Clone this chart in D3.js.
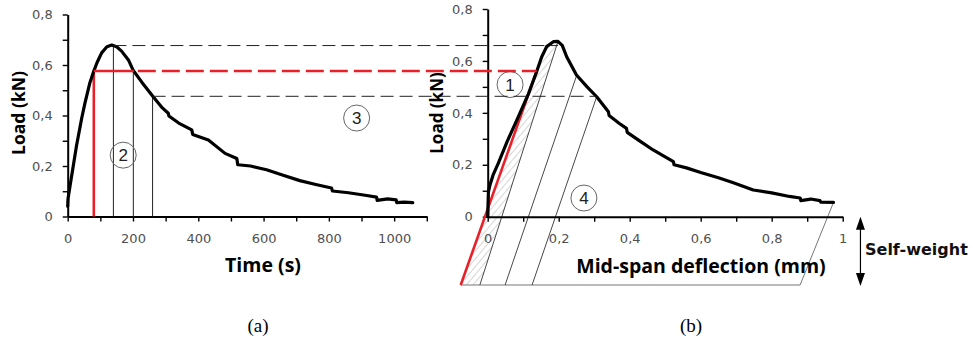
<!DOCTYPE html>
<html><head><meta charset="utf-8">
<script src="https://cdn.jsdelivr.net/npm/d3@7"></script>
<style>body{margin:0;background:#fff}svg{display:block}</style>
</head><body><svg id="c" width="979" height="338"></svg>
<script>
// ---------- Panel (a): load vs time ----------
const timeS = [0, 1, 7, 27, 43, 53, 68, 80, 90, 104, 120, 135, 150, 165, 186, 201, 227, 260, 290, 308, 310, 340, 380, 383, 431, 482, 518, 521, 560, 609, 660, 711, 760, 808, 811, 860, 916, 946, 948, 980, 1006, 1008, 1030, 1057];
const loadA = [0.04, 0.07, 0.12, 0.28, 0.39, 0.45, 0.53, 0.576, 0.61, 0.648, 0.672, 0.679, 0.672, 0.655, 0.62, 0.578, 0.532, 0.477, 0.43, 0.409, 0.398, 0.37, 0.343, 0.325, 0.303, 0.25, 0.23, 0.205, 0.2, 0.185, 0.163, 0.142, 0.127, 0.113, 0.101, 0.094, 0.083, 0.077, 0.064, 0.07, 0.066, 0.055, 0.057, 0.055];
// ---------- Panel (b): load vs mid-span deflection ----------
const deflB = [0, 0.002, 0.006, 0.015, 0.030, 0.055, 0.082, 0.1135, 0.138, 0.152, 0.166, 0.185, 0.198, 0.21, 0.2225, 0.25, 0.28, 0.307, 0.34, 0.342, 0.37, 0.391, 0.393, 0.43, 0.466, 0.5, 0.523, 0.525, 0.56, 0.6, 0.65, 0.692, 0.748, 0.8, 0.85, 0.88, 0.882, 0.91, 0.936, 0.938, 0.974];
const loadB = [0, 0.096, 0.12, 0.16, 0.206, 0.29, 0.372, 0.469, 0.559, 0.615, 0.655, 0.674, 0.675, 0.66, 0.616, 0.546, 0.5, 0.462, 0.404, 0.39, 0.36, 0.34, 0.325, 0.29, 0.257, 0.23, 0.212, 0.2, 0.188, 0.17, 0.15, 0.131, 0.103, 0.092, 0.078, 0.072, 0.062, 0.068, 0.062, 0.056, 0.055];

// axis ticks / labels
const loadTicks = [0,1,2,3,4,5,6,7,8].map(i => i/10);
const timeTicks = d3.range(0, 1101, 100);
const deflTicks = [0,1,2,3,4,5,6,7,8,9,10].map(i => i/10);

// annotation values
const levelLoads = [0.677, 0.576, 0.476];   // peak, red (elastic limit), post-peak
const levelTimes = [140, 80, 260];           // start of level lines in (a)
const levelDefls = [0.198, 0.138, 0.307];    // end of level lines in (b)
const thinTimes = [140, 201, 260];           // thin verticals in (a)
const redTime = 80;
const selfWeight = -0.263;                   // kN (shift below axis in (b))
const redLine = [[-0.076, selfWeight], [0.138, 0.561]];
const unloadBottoms = [-0.022, 0.049, 0.125];
const unloadTops = [[0.198, 0.675], [0.251, 0.546], [0.307, 0.462]];
const baseEnd = [[0.88, selfWeight], [0.974, 0.055]];
const circleA = [{t: 170, v: 0.243, n: "2"}, {t: 885, v: 0.39, n: "3"}];
const circleB = [{d: 0.063, v: 0.509, n: "1"}, {d: 0.271, v: 0.072, n: "4"}];

const svg = d3.select("#c");
svg.append("rect").attr("width", 979).attr("height", 338).attr("fill", "#fff");
const defs = svg.append("defs");
const pat = defs.append("pattern").attr("id", "hatch").attr("patternUnits", "userSpaceOnUse")
  .attr("width", 5).attr("height", 5).attr("patternTransform", "rotate(40)");
pat.append("line").attr("x1", 0).attr("y1", 0).attr("x2", 0).attr("y2", 5)
  .attr("stroke", "#999").attr("stroke-width", 0.8);

const xa = d3.scaleLinear().domain([0, 1100]).range([67.7, 426.8]);
const ya = d3.scaleLinear().domain([0, 0.8]).range([216.5, 14.5]);
const xb = d3.scaleLinear().domain([0, 1]).range([487.7, 842.7]);
const yb = d3.scaleLinear().domain([0, 0.8]).range([216.7, 9.0]);

const fmtLoad = d => (Math.round(d * 10) % 2 === 0) ? String(+d.toFixed(1)).replace(".", ",") : "";
const fmtDefl = d => (Math.round(d * 10) % 2 === 0) ? String(+d.toFixed(1)).replace(".", ",") : "";
const fmtTime = d => (d % 200 === 0) ? String(d) : "";

const RED = "#e8202a";
const tickFont = "'DejaVu Sans', sans-serif";
const titleFont = "'Open Sans', sans-serif";

function styleAxis(g) {
  g.select(".domain").attr("stroke", "#000").attr("stroke-width", 2);
  g.selectAll(".tick line").attr("stroke", "#000").attr("stroke-width", 1.4);
  g.selectAll(".tick text").attr("fill", "#505050").attr("font-size", 13).attr("font-family", tickFont);
}

// ---------- panel (a) ----------
const ga = svg.append("g");
ga.append("g").attr("transform", `translate(0,${ya(0)})`)
  .call(d3.axisBottom(xa).tickValues(timeTicks).tickFormat(fmtTime).tickSize(5).tickSizeOuter(0).tickPadding(12))
  .call(styleAxis);
ga.append("g").attr("transform", `translate(${xa(0)},0)`)
  .call(d3.axisLeft(ya).tickValues(loadTicks).tickFormat(fmtLoad).tickSize(5).tickSizeOuter(0).tickPadding(10))
  .call(styleAxis);

const interpA = t => {
  const i = d3.bisectLeft(timeS, t);
  if (i <= 0) return loadA[0];
  const t0 = timeS[i-1], t1 = timeS[i];
  return loadA[i-1] + (loadA[i] - loadA[i-1]) * (t - t0) / (t1 - t0);
};
// thin verticals
ga.selectAll(".vthin").data(thinTimes).join("line")
  .attr("x1", d => xa(d)).attr("x2", d => xa(d))
  .attr("y1", ya(0)).attr("y2", d => ya(interpA(d)))
  .attr("stroke", "#222").attr("stroke-width", 1);
// red vertical
ga.append("line").attr("x1", xa(redTime)).attr("x2", xa(redTime))
  .attr("y1", ya(0)).attr("y2", ya(levelLoads[1]))
  .attr("stroke", RED).attr("stroke-width", 2.6);

// ---------- panel (b) ----------
const gb = svg.append("g");
// hatched region (between elastic line and first unloading line)
const hatchPts = [redLine[0], [unloadBottoms[0], selfWeight], unloadTops[0]];
for (let i = deflB.length - 1; i >= 0; i--) {
  if (deflB[i] < 0.198 && deflB[i] > 0.138) hatchPts.push([deflB[i], loadB[i]]);
}
hatchPts.push(redLine[1]);
gb.append("path").attr("d", "M" + hatchPts.map(p => [xb(p[0]), yb(p[1])].join(",")).join("L") + "Z")
  .attr("fill", "url(#hatch)").attr("stroke", "none");

// base (self-weight) line + closing slant
gb.append("line").attr("x1", xb(redLine[0][0])).attr("y1", yb(selfWeight))
  .attr("x2", xb(baseEnd[0][0])).attr("y2", yb(selfWeight))
  .attr("stroke", "#777").attr("stroke-width", 1.2);
gb.append("line").attr("x1", xb(baseEnd[0][0])).attr("y1", yb(baseEnd[0][1]))
  .attr("x2", xb(baseEnd[1][0])).attr("y2", yb(baseEnd[1][1]))
  .attr("stroke", "#777").attr("stroke-width", 1);
// unloading lines
gb.selectAll(".unl").data(unloadBottoms).join("line")
  .attr("x1", d => xb(d)).attr("y1", yb(selfWeight))
  .attr("x2", (d, i) => xb(unloadTops[i][0])).attr("y2", (d, i) => yb(unloadTops[i][1]))
  .attr("stroke", "#333").attr("stroke-width", 0.9);

gb.append("g").attr("transform", `translate(0,${yb(0)})`)
  .call(d3.axisBottom(xb).tickValues(deflTicks).tickFormat(fmtDefl).tickSize(5).tickSizeOuter(0).tickPadding(12))
  .call(styleAxis);
gb.append("g").attr("transform", `translate(${xb(0)},0)`)
  .call(d3.axisLeft(yb).tickValues(loadTicks).tickFormat(fmtLoad).tickSize(5).tickSizeOuter(0).tickPadding(10))
  .call(styleAxis);

// red elastic line
gb.append("line").attr("x1", xb(redLine[0][0])).attr("y1", yb(redLine[0][1]))
  .attr("x2", xb(redLine[1][0])).attr("y2", yb(redLine[1][1]))
  .attr("stroke", RED).attr("stroke-width", 2.6);

// ---------- level (dashed) lines across both panels ----------
levelLoads.forEach((v, i) => {
  svg.append("line")
    .attr("x1", xa(levelTimes[i])).attr("x2", xb(levelDefls[i]))
    .attr("y1", ya(v)).attr("y2", ya(v))
    .attr("stroke", i === 1 ? RED : "#222")
    .attr("stroke-width", i === 1 ? 2.6 : 1)
    .attr("stroke-dasharray", i === 1 ? "40,4,18,6,18,6,18,6,18,6,18,6,18,6,18,6,18,6,18,6,18,6,18,6,18,6,18,6,18,6,18,6,18,6,18,6,18,6,18,6" : "13,6");
});

// ---------- curves ----------
const lineA = d3.line().x((d, i) => xa(timeS[i])).y((d, i) => ya(loadA[i]));
ga.append("path").attr("d", lineA(timeS)).attr("fill", "none").attr("stroke", "#000")
  .attr("stroke-width", 3.2).attr("stroke-linejoin", "round").attr("stroke-linecap", "round");
const lineB = d3.line().x((d, i) => xb(deflB[i])).y((d, i) => yb(loadB[i]));
gb.append("path").attr("d", lineB(deflB)).attr("fill", "none").attr("stroke", "#000")
  .attr("stroke-width", 3.2).attr("stroke-linejoin", "round").attr("stroke-linecap", "round");

// ---------- numbered circles ----------
function circ(g, x, y, n) {
  g.append("circle").attr("cx", x).attr("cy", y).attr("r", 13)
    .attr("fill", "none").attr("stroke", "#666").attr("stroke-width", 1);
  g.append("text").attr("x", x).attr("y", y).attr("dy", "0.36em").attr("text-anchor", "middle")
    .attr("font-family", "'Liberation Sans', Arial, sans-serif").attr("font-size", 17).attr("fill", "#222").text(n);
}
circleA.forEach(c => circ(ga, xa(c.t), ya(c.v), c.n));
circleB.forEach(c => circ(gb, xb(c.d), yb(c.v), c.n));

// ---------- titles ----------
function title(x, y, txt, rot, size) {
  const t = svg.append("text").attr("x", x).attr("y", y).attr("text-anchor", "middle")
    .attr("dy", "0.35em").attr("font-family", titleFont).attr("font-weight", "bold")
    .attr("font-size", size).attr("fill", "#000").text(txt);
  if (rot) t.attr("transform", `rotate(-90,${x},${y})`);
}
title(19, 113, "Load (kN)", true, 17.5);
title(437, 113, "Load (kN)", true, 17);
title(263, 265, "Time (s)", false, 19.5);
title(701, 266, "Mid-span deflection (mm)", false, 19.5);

// self-weight arrow
const arrX = xb(1.05);
svg.append("line").attr("x1", arrX).attr("x2", arrX).attr("y1", yb(0) + 10).attr("y2", yb(selfWeight) - 10)
  .attr("stroke", "#000").attr("stroke-width", 1.2);
svg.append("path").attr("d", `M${arrX},${yb(0)} L${arrX-4.5},${yb(0)+13} L${arrX+4.5},${yb(0)+13}Z`).attr("fill", "#000");
svg.append("path").attr("d", `M${arrX},${yb(selfWeight)+1} L${arrX-4.5},${yb(selfWeight)-12} L${arrX+4.5},${yb(selfWeight)-12}Z`).attr("fill", "#000");
svg.append("text").attr("x", 865).attr("y", 249).attr("dy", "0.35em")
  .attr("font-family", "'DejaVu Sans', sans-serif").attr("font-weight", "bold").attr("font-size", 16)
  .attr("fill", "#111").text("Self-weight");

// panel captions
svg.append("text").attr("x", 258).attr("y", 332).attr("text-anchor", "middle")
  .attr("font-family", "'Liberation Serif', 'Times New Roman', serif").attr("font-size", 19).text("(a)");
svg.append("text").attr("x", 691).attr("y", 332).attr("text-anchor", "middle")
  .attr("font-family", "'Liberation Serif', 'Times New Roman', serif").attr("font-size", 19).text("(b)");
</script></body></html>
